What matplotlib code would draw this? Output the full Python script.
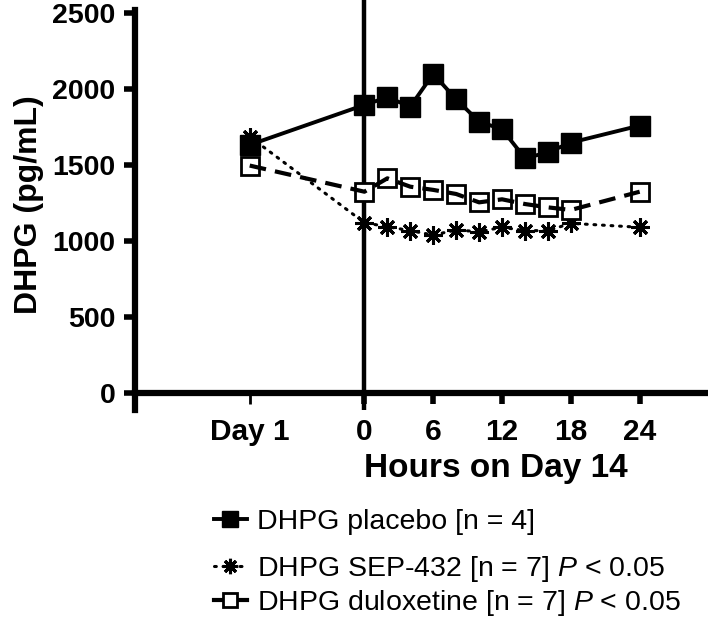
import matplotlib
matplotlib.use("Agg")
import matplotlib.pyplot as plt
from matplotlib.lines import Line2D

plt.rcParams['font.family'] = ['Liberation Sans', 'DejaVu Sans']
plt.rcParams['mathtext.fontset'] = 'custom'
plt.rcParams['mathtext.rm'] = 'Liberation Sans'
plt.rcParams['mathtext.it'] = 'Liberation Sans:italic'

# data (Day 1 baseline is drawn at x = -10, then hours on day 14)
day1_pos = -10
hours = [0, 2, 4, 6, 8, 10, 12, 14, 16, 18, 24]
x_all = [day1_pos] + hours

placebo = [1632, 1895, 1945, 1884, 2099, 1932, 1785, 1735, 1544, 1583, 1647, 1759]
sep432 = [1686, 1120, 1094, 1068, 1039, 1072, 1061, 1090, 1068, 1068, 1116, 1090]
duloxetine = [1496, 1324, 1412, 1357, 1336, 1309, 1254, 1274, 1243, 1221, 1204, 1324]

tick_pos = [day1_pos, 0, 6, 12, 18, 24]
tick_labels = ['Day 1', '0', '6', '12', '18', '24']
y_ticks = [0, 500, 1000, 1500, 2000, 2500]

labels = ['DHPG placebo [n = 4]',
          'DHPG SEP-432 [n = 7] $\\it{P}$ < 0.05',
          'DHPG duloxetine [n = 7] $\\it{P}$ < 0.05']

fig = plt.figure(figsize=(7.08, 6.24), dpi=100)
ax = fig.add_axes([0.1907, 0.3434, 0.81, 0.6566])

ax.axvline(0, color='black', lw=3.2, zorder=1)

h_pl, = ax.plot(x_all, placebo, color='black', lw=2.8, marker='s', ms=14,
                mfc='black', mec='black', zorder=4)
h_sep, = ax.plot(x_all, sep432, color='black', lw=2.2, ls=(0, (0.6, 2.2)),
                 dash_capstyle='round', marker=(8, 2, 0), ms=13, mew=2.2,
                 mec='black', zorder=3)
# open squares with the dashed line drawn over them
ax.plot(x_all, duloxetine, ls='none', marker='s', ms=12.5, mfc='white',
        mec='black', mew=2.0, zorder=3)
ax.plot(x_all, duloxetine, color='black', lw=3.0, ls=(0, (4, 2.2)), zorder=3.5)
h_dul = Line2D([], [], color='black', lw=3.0, marker='s', ms=12.5, mfc='white',
               mec='black', mew=2.0)

ax.set_xlim(-20, 30)
ax.set_ylim(-110, 2585)

for s in ['top', 'right']:
    ax.spines[s].set_visible(False)
ax.spines['bottom'].set_position(('data', 0))
ax.spines['left'].set_bounds(-110, 2520)
ax.spines['left'].set_linewidth(4.5)
ax.spines['bottom'].set_linewidth(4.5)

ax.set_xticks(tick_pos)
ax.set_xticklabels(tick_labels, fontsize=21.5, fontweight='bold')
ax.set_yticks(y_ticks)
ax.set_yticklabels([str(v) for v in y_ticks], fontsize=20.5, fontweight='bold')
ax.tick_params(axis='x', direction='out', length=8, width=4, pad=10)
ax.tick_params(axis='y', direction='out', length=8, width=4, pad=6)
ax.xaxis.get_major_ticks()[0].tick1line.set_markeredgewidth(2)

ax.set_ylabel('DHPG (pg/mL)', fontsize=23, fontweight='bold', labelpad=6)
fig.text(0.700, 0.25, 'Hours on Day 14', fontsize=24, fontweight='bold',
         ha='center', va='center')

rows = [0.164, 0.088, 0.033]
for h, lab, yy in zip([h_pl, h_sep, h_dul], labels, rows):
    leg = fig.legend([h], [lab], loc='center left', bbox_to_anchor=(0.302, yy),
                     frameon=False, fontsize=20.5, handlelength=1.15,
                     handletextpad=0.35, borderpad=0, borderaxespad=0,
                     markerscale=0.85)

fig.savefig('out.png', dpi=100)
